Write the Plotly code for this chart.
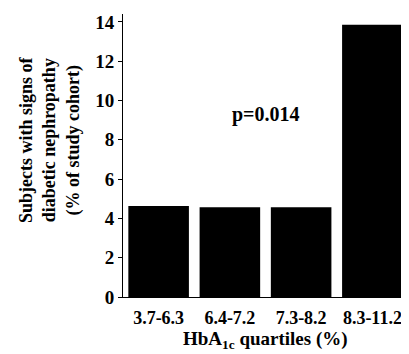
import plotly.graph_objects as go

categories = ["3.7-6.3", "6.4-7.2", "7.3-8.2", "8.3-11.2"]
values = [4.63, 4.57, 4.57, 13.85]
y_ticks = [0, 2, 4, 6, 8, 10, 12, 14]
p_text = "p=0.014"

FONT = "Liberation Serif, Times New Roman, serif"

fig = go.Figure(go.Bar(
    x=categories, y=values,
    marker=dict(color="black", line=dict(width=0)),
    width=0.85,
))

# page body has an 8px default margin; size figure to fill the rest of the window
L, R, T, B = 115, 1, 6, 57
fig.update_layout(
    width=401, height=346,
    margin=dict(l=L, r=R, t=T, b=B, autoexpand=False),
    paper_bgcolor="white", plot_bgcolor="white",
    showlegend=False,
    font=dict(family=FONT, color="black", size=18, weight="bold"),
    xaxis=dict(
        automargin=False,
        showline=True, linecolor="black", linewidth=1,
        ticks="", showgrid=False, zeroline=False,
        tickfont=dict(family=FONT, size=18, weight="bold"),
        ticklabelstandoff=4,
        range=[-0.5, 3.5],
    ),
    yaxis=dict(
        automargin=False,
        range=[0, 14.4], tickvals=y_ticks,
        showline=True, linecolor="black", linewidth=1,
        ticks="outside", ticklen=4, tickwidth=1, tickcolor="black",
        showgrid=False, zeroline=False,
        tickfont=dict(family=FONT, size=19, weight="bold"),
    ),
)

fig.add_annotation(
    text=p_text, x=1.5, y=9.3, xref="x", yref="y",
    showarrow=False, font=dict(family=FONT, size=20, weight="bold"),
)
fig.add_annotation(
    text="HbA<sub>1c</sub> quartiles (%)", x=0.5, y=-0.197,
    xref="paper", yref="paper", xanchor="center", yanchor="bottom",
    borderpad=0,
    showarrow=False, font=dict(family=FONT, size=19, weight="bold"),
)
fig.add_annotation(
    text="Subjects with signs of<br>diabetic nephropathy<br>(% of study cohort)",
    x=-0.256, y=0.555, xref="paper", yref="paper",
    xanchor="center", yanchor="middle", textangle=-90,
    showarrow=False, font=dict(family=FONT, size=18, weight="bold"),
)

fig.write_html("out.html")
